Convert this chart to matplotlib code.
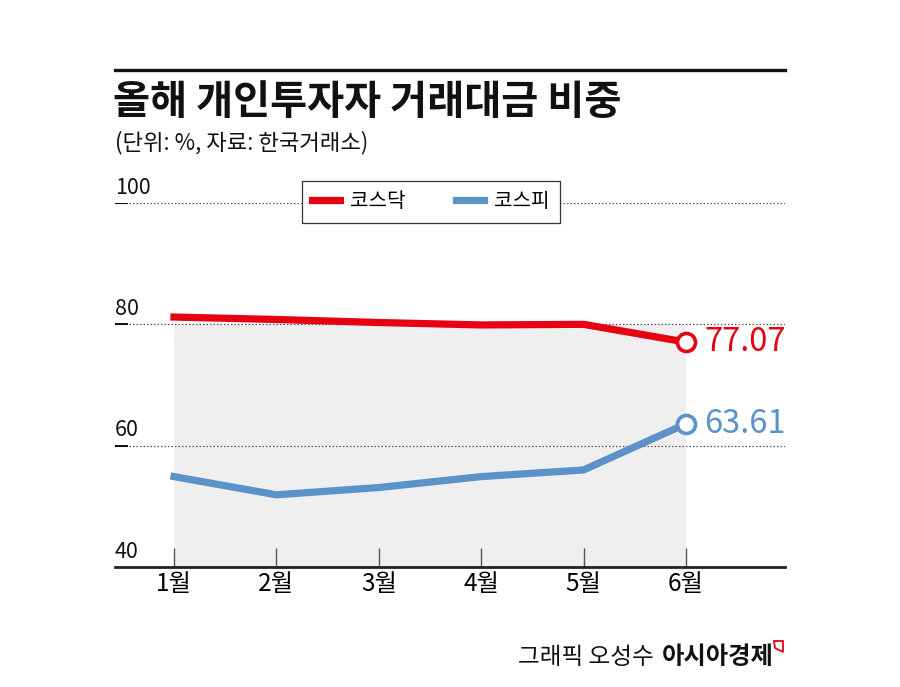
import matplotlib
matplotlib.use("Agg")
import matplotlib.pyplot as plt
from matplotlib.lines import Line2D
from matplotlib.patches import Polygon

plt.rcParams['font.family'] = ['Noto Sans CJK KR', 'DejaVu Sans']

months = ['1월', '2월', '3월', '4월', '5월', '6월']
kosdaq = [81.2, 80.8, 80.3, 79.9, 80.0, 77.07]
kospi = [54.9, 51.9, 53.1, 54.9, 56.0, 63.61]
yticks = [40, 60, 80, 100]
series_names = ['코스닥', '코스피']
title = '올해 개인투자자 거래대금 비중'
subtitle = '(단위: %, 자료: 한국거래소)'
credit = '그래픽 오성수'
brand = '아시아경제'

RED = '#e60012'
BLUE = '#5b92c8'

W, H = 900, 687
fig = plt.figure(figsize=(9, 6.87), dpi=100)
fx = lambda px: px / W
fy = lambda py: (H - py) / H

ax = fig.add_axes([fx(115), fy(567), fx(785) - fx(115), (567 - 203) / H])
x = list(range(1, len(months) + 1))
ax.set_xlim(1 - 59 / 102.4, 6 + 99 / 102.4)
ax.set_ylim(40, 100)

# gray band
ax.fill_between([x[0], x[-1]], 40, 80, color='#efefef', zorder=0, linewidth=0)

# gridlines
for v in yticks[1:]:
    ax.axhline(v, color='#555555', linestyle=(0, (1.2, 1.6)), linewidth=0.9, zorder=1)
    ax.hlines(v, 0, 0.019, transform=ax.get_yaxis_transform(), color='black', linewidth=1.3, zorder=2)
for v in yticks:
    ax.text(0, v + 0.7, str(v), transform=ax.get_yaxis_transform(), ha='left', va='bottom',
            fontsize=15.5, color='#111111')

ax.plot(x, kosdaq, color=RED, linewidth=5.2, solid_joinstyle='miter', zorder=3, label=series_names[0])
ax.plot(x, kospi, color=BLUE, linewidth=5.2, solid_joinstyle='miter', zorder=3, label=series_names[1])
ax.plot([x[-1]], [kosdaq[-1]], marker='o', markersize=13, markerfacecolor='white',
        markeredgecolor=RED, markeredgewidth=2.6, zorder=4)
ax.plot([x[-1]], [kospi[-1]], marker='o', markersize=13, markerfacecolor='white',
        markeredgecolor=BLUE, markeredgewidth=2.6, zorder=4)
ax.annotate(f'{kosdaq[-1]:.2f}', (x[-1], kosdaq[-1]), xytext=(13, 0), textcoords='offset points',
            ha='left', va='center', fontsize=23.5, color=RED)
ax.annotate(f'{kospi[-1]:.2f}', (x[-1], kospi[-1]), xytext=(13, 0), textcoords='offset points',
            ha='left', va='center', fontsize=23.5, color=BLUE)

for s in ['top', 'right', 'left']:
    ax.spines[s].set_visible(False)
ax.spines['bottom'].set_linewidth(2.0)
ax.spines['bottom'].set_color('#222222')
ax.set_yticks([])
ax.set_xticks(x)
ax.set_xticklabels(months, fontsize=17.5)
ax.tick_params(axis='x', direction='in', length=14, width=1, color='#555555', pad=3)
ax.patch.set_alpha(0)

leg = ax.legend(loc='center', bbox_to_anchor=(fx(431), fy(202)), bbox_transform=fig.transFigure,
                ncol=2, fontsize=14.5, frameon=True, fancybox=False, edgecolor='#333333',
                framealpha=1, handlelength=1.4, handletextpad=0.5, columnspacing=2.5,
                borderpad=0.5)
leg.get_frame().set_linewidth(0.9)
leg.set_zorder(10)

# header
fig.add_artist(Line2D([fx(115), fx(785)], [fy(70), fy(70)], color='#111111', linewidth=2.4))
fig.text(fx(113), fy(103), title, fontsize=29, fontweight='heavy', ha='left', va='center', color='#111111')
fig.text(fx(115), fy(143), subtitle, fontsize=16, ha='left', va='center', color='#111111')

# footer
fig.text(fx(654), fy(657), credit, fontsize=17, ha='right', va='center', color='#111111')
fig.text(fx(662), fy(657), brand, fontsize=17.5, fontweight='bold', ha='left', va='center', color='#111111')
fig.add_artist(Polygon([(fx(774), fy(641)), (fx(783), fy(641)), (fx(783), fy(652)), (fx(775), fy(648))],
                       closed=True, fill=False, edgecolor=RED, linewidth=1.3, transform=fig.transFigure))

fig.savefig('out.png', dpi=100)
